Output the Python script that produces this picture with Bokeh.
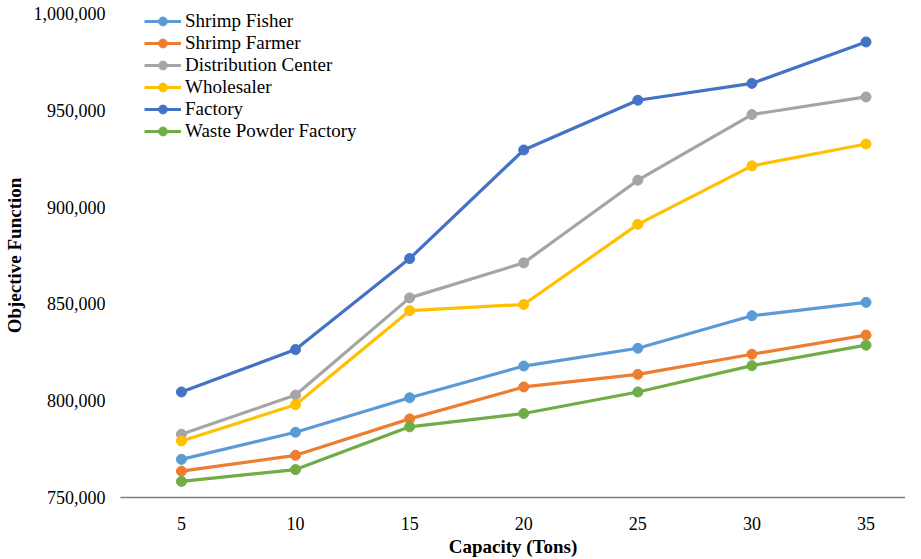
from bokeh.plotting import figure
from bokeh.models import Range1d, FixedTicker, NumeralTickFormatter, Legend
from bokeh.embed import file_html
from bokeh.resources import INLINE

capacity = [5, 10, 15, 20, 25, 30, 35]
shrimp_fisher = [769700, 783700, 801500, 817900, 827100, 843900, 850800]
shrimp_farmer = [763600, 771800, 790600, 807100, 813600, 824000, 833900]
distribution_center = [782700, 802900, 853100, 871200, 913900, 947800, 956900]
wholesaler = [779200, 797900, 846500, 849700, 891100, 921300, 932600]
factory = [804500, 826400, 873400, 929500, 955200, 963900, 985300]
waste_powder_factory = [758300, 764400, 786500, 793400, 804500, 818100, 828700]
y_ticks = [750000, 800000, 850000, 900000, 950000, 1000000]

series = [
    ("Shrimp Fisher", shrimp_fisher, "#5B9BD5"),
    ("Shrimp Farmer", shrimp_farmer, "#ED7D31"),
    ("Distribution Center", distribution_center, "#A5A5A5"),
    ("Wholesaler", wholesaler, "#FFC000"),
    ("Factory", factory, "#4472C4"),
    ("Waste Powder Factory", waste_powder_factory, "#70AD47"),
]

FONT = "Liberation Serif"

p = figure(width=905, height=559, x_range=Range1d(2.33, 36.73), y_range=Range1d(750000, 1000000),
           output_backend="svg", toolbar_location=None,
           min_border_left=115, min_border_right=0, min_border_top=13, min_border_bottom=0)
p.outline_line_color = None
p.xgrid.grid_line_color = None
p.ygrid.grid_line_color = None

items = []
for name, vals, color in series:
    r1 = p.line(capacity, vals, line_color=color, line_width=3.2)
    r2 = p.scatter(capacity, vals, size=10, fill_color=color, line_color=color)
    items.append((name, [r1, r2]))

legend = Legend(items=items, location=(24, 355))
legend.label_text_font = FONT
legend.label_text_font_size = "19px"
legend.label_text_color = "#000000"
legend.background_fill_alpha = 0
legend.border_line_alpha = 0
legend.padding = 0
legend.margin = 0
legend.spacing = 0
legend.label_height = 22
legend.glyph_height = 22
legend.glyph_width = 37
legend.label_standoff = 4
p.add_layout(legend)

p.yaxis.ticker = FixedTicker(ticks=y_ticks)
p.yaxis.formatter = NumeralTickFormatter(format="0,0")
p.yaxis.axis_line_color = None
p.yaxis.major_tick_line_color = None
p.yaxis.minor_tick_line_color = None
p.yaxis.major_tick_out = 0
p.yaxis.major_tick_in = 0
p.yaxis.major_label_text_font = FONT
p.yaxis.major_label_text_font_size = "18px"
p.yaxis.major_label_text_color = "#000000"
p.yaxis.major_label_standoff = 15
p.yaxis.axis_label = "Objective Function"
p.yaxis.axis_label_text_font = FONT
p.yaxis.axis_label_text_font_style = "bold"
p.yaxis.axis_label_text_font_size = "19px"
p.yaxis.axis_label_text_color = "#000000"
p.yaxis.axis_label_standoff = 6

p.xaxis.ticker = FixedTicker(ticks=capacity)
p.xaxis.axis_line_color = "#7F7F7F"
p.xaxis.axis_line_width = 1.5
p.xaxis.major_tick_line_color = None
p.xaxis.minor_tick_line_color = None
p.xaxis.major_tick_out = 0
p.xaxis.major_tick_in = 0
p.xaxis.major_label_text_font = FONT
p.xaxis.major_label_text_font_size = "18px"
p.xaxis.major_label_text_color = "#000000"
p.xaxis.major_label_standoff = 19
p.xaxis.axis_label = "Capacity (Tons)"
p.xaxis.axis_label_text_font = FONT
p.xaxis.axis_label_text_font_style = "bold"
p.xaxis.axis_label_text_font_size = "19px"
p.xaxis.axis_label_text_color = "#000000"
p.xaxis.axis_label_standoff = 3

open("out.html", "w").write(file_html(p, INLINE))
